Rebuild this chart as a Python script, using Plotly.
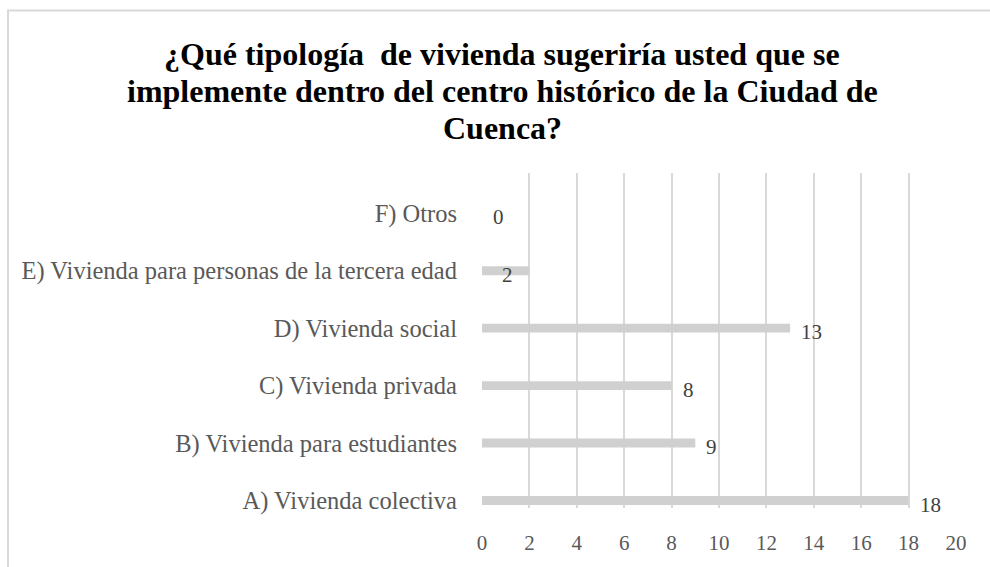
import plotly.graph_objects as go

# Survey answers (bottom to top)
categories = [
    "A) Vivienda colectiva",
    "B) Vivienda para estudiantes",
    "C) Vivienda privada",
    "D) Vivienda social",
    "E) Vivienda para personas de la tercera edad",
    "F) Otros",
]
counts = [18, 9, 8, 13, 2, 0]
x_ticks = [0, 2, 4, 6, 8, 10, 12, 14, 16, 18, 20]

title_lines = [
    "¿Qué tipología&nbsp; de vivienda sugeriría usted que se",
    "implemente dentro del centro histórico de la Ciudad de",
    "Cuenca?",
]

W, H = 990, 567
L, R, T, B = 482, 34, 173, 54
pw, ph = W - L - R, H - T - B

serif = "Liberation Serif"


def px_x(p):
    return (p - L) / pw


def px_y(p):
    return (H - B - p) / ph


fig = go.Figure()
fig.add_trace(go.Bar(
    x=counts, y=categories, orientation="h",
    marker=dict(color="#d0d0d0", line=dict(width=0)),
    hoverinfo="skip",
))

# value labels next to the bar ends
label_shift = {2: -29}
for c, v in zip(categories, counts):
    fig.add_annotation(
        x=v, y=c, xref="x", yref="y", text=str(v), showarrow=False,
        xanchor="left", yanchor="middle", xshift=label_shift.get(v, 9), yshift=-4,
        font=dict(family=serif, size=21, color="#404040"),
    )

# chart title, one line at a time for tight line spacing
for line, ypix in zip(title_lines, [52, 90, 127]):
    fig.add_annotation(
        x=px_x(502), y=px_y(ypix), xref="paper", yref="paper",
        text="<b>" + line + "</b>", showarrow=False,
        xanchor="center", yanchor="middle", align="center",
        font=dict(family=serif, size=32, color="#000000"),
    )

# chart frame
fig.add_shape(type="rect", xref="paper", yref="paper",
              x0=px_x(8), x1=px_x(1005), y0=px_y(585), y1=px_y(8),
              line=dict(color="#d9d9d9", width=2), fillcolor="rgba(0,0,0,0)",
              layer="below")

fig.update_layout(
    width=W, height=H,
    margin=dict(l=L, r=R, t=T, b=B),
    paper_bgcolor="white", plot_bgcolor="white",
    showlegend=False,
    bargap=0.845,
    xaxis=dict(range=[0, 20], tickvals=x_ticks, showgrid=True,
               gridcolor="#d9d9d9", gridwidth=1.5, zeroline=False,
               showline=False, ticks="", ticklabelstandoff=20,
               tickfont=dict(family=serif, size=21, color="#595959"),
               fixedrange=True),
    yaxis=dict(categoryorder="array", categoryarray=categories,
               range=[-0.13, len(categories) - 0.30],
               showgrid=False, zeroline=False, showline=False, ticks="",
               ticklabelstandoff=24,
               tickfont=dict(family=serif, size=24.5, color="#595959"),
               fixedrange=True),
)

fig.write_html("out.html")
